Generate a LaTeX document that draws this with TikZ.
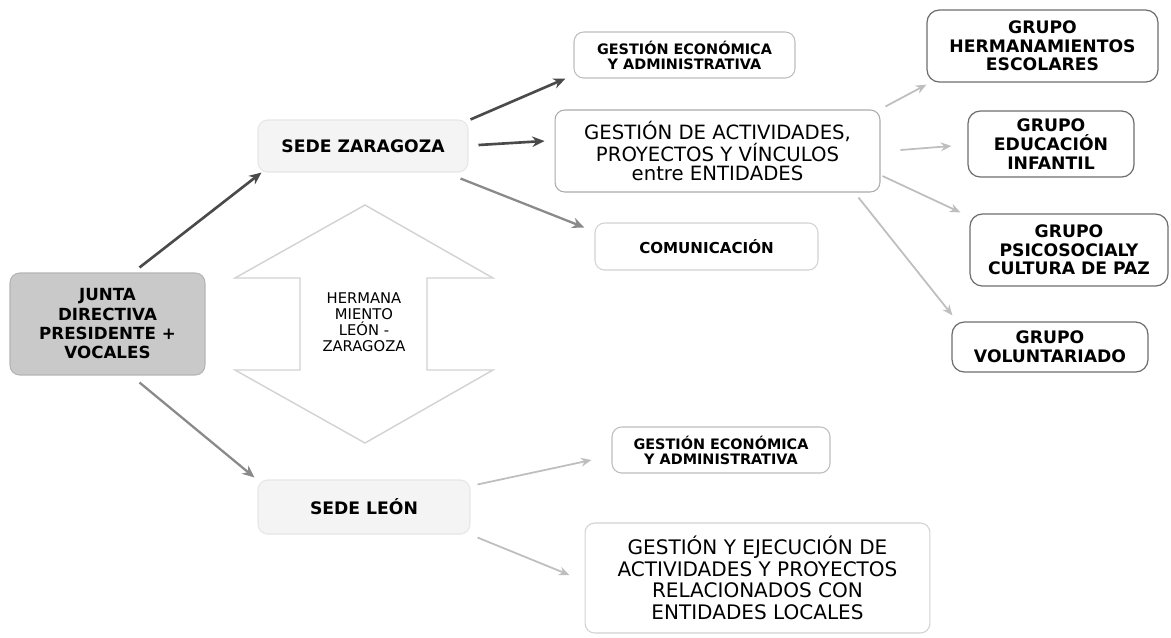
\documentclass[tikz,border=0pt]{standalone}
\usepackage{fontspec}
\setmainfont{DejaVu Sans}
\usetikzlibrary{arrows.meta}
\definecolor{jfill}{HTML}{C9C9C9}
\definecolor{jline}{HTML}{B4B4B4}
\definecolor{sfill}{HTML}{F4F4F4}
\definecolor{sline}{HTML}{E6E6E6}
\definecolor{bline}{HTML}{BDBDBD}
\definecolor{gline}{HTML}{6E6E6E}
\definecolor{adark}{HTML}{4A4A4A}
\definecolor{amid}{HTML}{8A8A8A}
\definecolor{alight}{HTML}{BEBEBE}
\definecolor{hline}{HTML}{D2D2D2}
\tikzset{
  box/.style={rounded corners=5.5pt, align=center, inner sep=1pt, line width=0.6pt},
  juntabox/.style={box, fill=jfill, draw=jline, font=\fontsize{9.5}{11}\selectfont\bfseries},
  sedebox/.style={box, fill=sfill, draw=sline, font=\fontsize{9.8}{11}\selectfont\bfseries},
  smallbox/.style={box, fill=white, draw=bline, font=\fontsize{8.2}{8.6}\selectfont\bfseries},
  bigbox/.style={box, fill=white, draw=bline, font=\fontsize{11.2}{11.2}\selectfont},
  grupobox/.style={box, rounded corners=7pt, fill=white, draw=gline, line width=0.7pt, font=\fontsize{9.8}{10.6}\selectfont\bfseries},
  adk/.style={draw=adark, line width=1.5pt, -{Stealth[length=7pt,width=6pt]}},
  amd/.style={draw=amid, line width=1.3pt, -{Stealth[length=7pt,width=6pt]}},
  alt/.style={draw=alight, line width=1pt, -{Stealth[length=6pt,width=5pt]}},
}
\begin{document}
\begin{tikzpicture}[x=0.02cm, y=-0.02cm]
\useasboundingbox (0,0) rectangle (1171,637);
% double arrow
\draw[draw=hline, fill=white, line width=0.8pt, line join=miter]
  (365,205) -- (493,278) -- (427,278) -- (427,370) -- (493,370) -- (365,443)
  -- (235,370) -- (300,370) -- (300,278) -- (235,278) -- cycle;
\node[align=center, font=\fontsize{8.4}{9.2}\selectfont] (herm) at (364,322) {HERMANA\\MIENTO\\LEÓN -\\ZARAGOZA};
% nodes
\node[juntabox, minimum width=3.9cm, minimum height=2.04cm] (junta) at (107.5,324) {JUNTA\\DIRECTIVA\\PRESIDENTE +\\VOCALES};
\node[sedebox, minimum width=4.2cm, minimum height=1.04cm] (sz) at (363,146) {SEDE ZARAGOZA};
\node[sedebox, minimum width=4.24cm, minimum height=1.08cm] (sl) at (364,507) {SEDE LEÓN};
\node[smallbox, minimum width=4.42cm, minimum height=0.92cm] (geT) at (684.5,55) {GESTIÓN ECONÓMICA\\Y ADMINISTRATIVA};
\node[bigbox, draw=bline!90!black, minimum width=6.5cm, minimum height=1.64cm] (ga) at (717.5,151) {GESTIÓN DE ACTIVIDADES,\\PROYECTOS Y VÍNCULOS\\entre ENTIDADES};
\node[smallbox, draw=hline, minimum width=4.46cm, minimum height=0.94cm, font=\fontsize{8.6}{9}\selectfont\bfseries] (com) at (706.5,246.5) {COMUNICACIÓN};
\node[smallbox, minimum width=4.36cm, minimum height=0.92cm] (geB) at (721,450) {GESTIÓN ECONÓMICA\\Y ADMINISTRATIVA};
\node[bigbox, draw=hline, minimum width=6.9cm, minimum height=2.2cm, font=\fontsize{11.4}{12.3}\selectfont] (gye) at (757.5,578) {GESTIÓN Y EJECUCIÓN DE\\ACTIVIDADES Y PROYECTOS\\RELACIONADOS CON\\ENTIDADES LOCALES};
\node[grupobox, minimum width=4.62cm, minimum height=1.44cm] (g1) at (1042.5,46) {GRUPO\\HERMANAMIENTOS\\ESCOLARES};
\node[grupobox, minimum width=3.32cm, minimum height=1.32cm] (g2) at (1051,144) {GRUPO\\EDUCACIÓN\\INFANTIL};
\node[grupobox, minimum width=3.96cm, minimum height=1.44cm] (g3) at (1069,250) {GRUPO\\PSICOSOCIALY\\CULTURA DE PAZ};
\node[grupobox, minimum width=3.92cm, minimum height=1.0cm] (g4) at (1050,347) {GRUPO\\VOLUNTARIADO};
% connectors
\draw[adk] ([shift={(32,-5)}]junta.north) -- ([shift={(4,0)}]sz.south west);
\draw[amd] ([shift={(32,7)}]junta.south) -- ([shift={(-3,-2)}]sl.north west);
\draw[adk] ([shift={(2,0)}]sz.north east) -- ([shift={(-8,0)}]geT.south west);
\draw[adk] ([shift={(10,-1)}]sz.east) -- ([shift={(-10,-10)}]ga.west);
\draw[amd] ([shift={(-8,6)}]sz.south east) -- ([shift={(-10,5)}]com.north west);
\draw[alt] ([shift={(5,-3)}]ga.north east) -- ([shift={(0,2)}]g1.south west);
\draw[alt] ([shift={(20,-1)}]ga.east) -- ([shift={(-16,2)}]g2.west);
\draw[alt] ([shift={(2,25)}]ga.east) -- ([shift={(-9,-1)}]g3.north west);
\draw[alt] ([shift={(-22,5)}]ga.south east) -- ([shift={(1,-6)}]g4.north west);
\draw[alt] ([shift={(7,5)}]sl.north east) -- ([shift={(-20,10)}]geB.west);
\draw[alt] ([shift={(7,3)}]sl.south east) -- ([shift={(-15,-3)}]gye.west);
\end{tikzpicture}
\end{document}
